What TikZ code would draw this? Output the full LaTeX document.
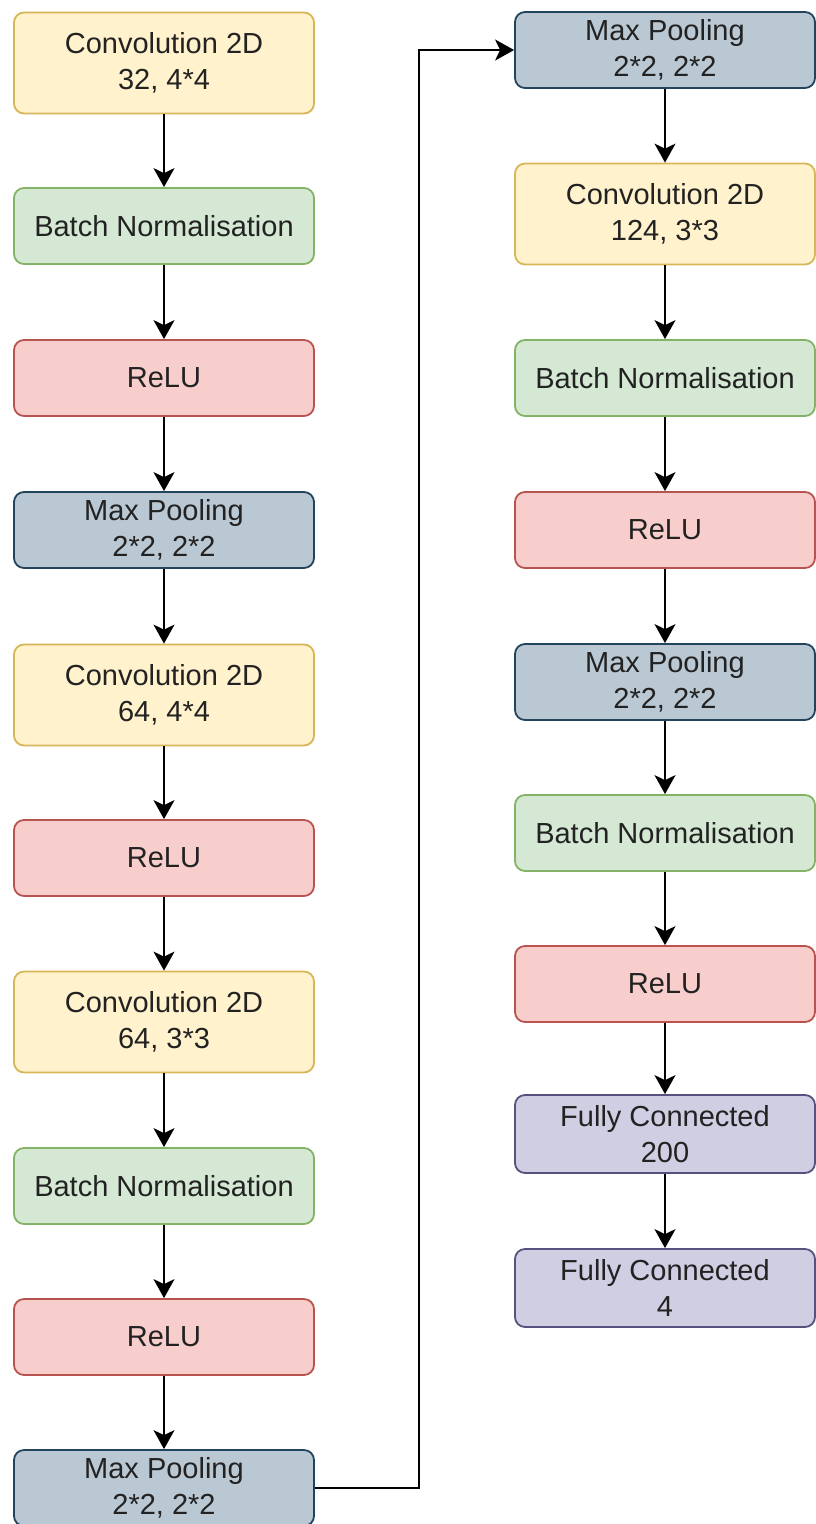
\documentclass[tikz,border=0pt]{standalone}
\usepackage{fontspec}
\setmainfont{Liberation Sans}
\usetikzlibrary{arrows.meta}

\definecolor{convfill}{HTML}{FFF2CC}
\definecolor{convline}{HTML}{D6B656}
\definecolor{normfill}{HTML}{D5E8D4}
\definecolor{normline}{HTML}{82B366}
\definecolor{relufill}{HTML}{F8CECC}
\definecolor{reluline}{HTML}{B85450}
\definecolor{poolfill}{HTML}{BAC8D3}
\definecolor{poolline}{HTML}{23445D}
\definecolor{densefill}{HTML}{D0CEE2}
\definecolor{denseline}{HTML}{56517E}
\definecolor{textgray}{HTML}{222222}

\begin{document}
\begin{tikzpicture}[x=1pt,y=1pt]

\tikzset{
  LayerStyle/.style = { rectangle, rounded corners=10pt, line width=1.8pt,
                       minimum width=300pt, align=center, text=textgray,
                       font = \fontsize{29}{36}\selectfont },
  ConvStyle/.style  = { LayerStyle, draw=convline, fill=convfill, minimum height=101pt },
  NormStyle/.style  = { LayerStyle, draw=normline, fill=normfill, minimum height=76pt },
  ReluStyle/.style  = { LayerStyle, draw=reluline, fill=relufill, minimum height=76pt },
  PoolStyle/.style  = { LayerStyle, draw=poolline, fill=poolfill, minimum height=76pt },
  DenseStyle/.style = { LayerStyle, draw=denseline, fill=densefill, minimum height=78pt },
  EdgeStyle/.style  = { line width=1.8pt, -{Stealth[length=19pt,width=21pt,inset=5pt]} } }
  \useasboundingbox (0,0) rectangle (815,-1524);

  % left column
  \node[ConvStyle] (c1) at (164, -63)   {Convolution 2D\\32, 4*4};
  \node[NormStyle] (b1) at (164, -226)  {Batch Normalisation};
  \node[ReluStyle] (r1) at (164, -378)  {ReLU};
  \node[PoolStyle] (m1) at (164, -530)  {Max Pooling\\2*2, 2*2};
  \node[ConvStyle] (c2) at (164, -695)  {Convolution 2D\\64, 4*4};
  \node[ReluStyle] (r2) at (164, -858)  {ReLU};
  \node[ConvStyle] (c3) at (164, -1022) {Convolution 2D\\64, 3*3};
  \node[NormStyle] (b2) at (164, -1186) {Batch Normalisation};
  \node[ReluStyle] (r3) at (164, -1337) {ReLU};
  \node[PoolStyle] (m2) at (164, -1488) {Max Pooling\\2*2, 2*2};

  % right column
  \node[PoolStyle]  (m3) at (665, -50)   {Max Pooling\\2*2, 2*2};
  \node[ConvStyle]  (c4) at (665, -214)  {Convolution 2D\\124, 3*3};
  \node[NormStyle]  (b3) at (665, -378)  {Batch Normalisation};
  \node[ReluStyle]  (r4) at (665, -530)  {ReLU};
  \node[PoolStyle]  (m4) at (665, -682)  {Max Pooling\\2*2, 2*2};
  \node[NormStyle]  (b4) at (665, -833)  {Batch Normalisation};
  \node[ReluStyle]  (r5) at (665, -984)  {ReLU};
  \node[DenseStyle] (f1) at (665, -1134) {Fully Connected\\200};
  \node[DenseStyle] (f2) at (665, -1288) {Fully Connected\\4};

  \foreach \a/\b in {c1/b1, b1/r1, r1/m1, m1/c2, c2/r2, r2/c3, c3/b2, b2/r3, r3/m2,
                     m3/c4, c4/b3, b3/r4, r4/m4, m4/b4, b4/r5, r5/f1, f1/f2}
    \draw[EdgeStyle] (\a) -- (\b);

  \draw[EdgeStyle] (m2.east) -- ++(104,0) |- (m3.west);

\end{tikzpicture}
\end{document}
